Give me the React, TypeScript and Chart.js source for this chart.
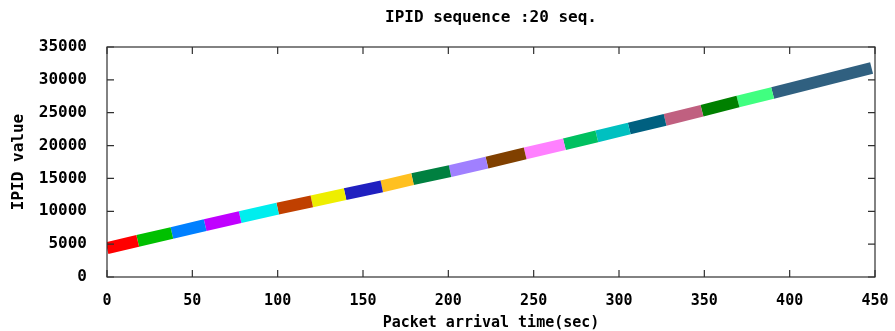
import React, { useEffect, useRef } from "react";
import { Chart, registerables } from "chart.js";

Chart.register(...registerables);

const chartTitle = "IPID sequence :20 seq.";
const xTitle = "Packet arrival time(sec)";
const yTitle = "IPID value";

// 20 IPID sequences: start/end arrival time (sec) and start/end IPID value
const seqStartTime = [0, 18, 38, 57.5, 78, 100, 120, 139.5, 161, 179, 201, 222.6, 245, 268, 287, 306, 327, 348.6, 369.7, 390];
const seqEndTime = [18, 38, 57.5, 78, 100, 120, 139.5, 161, 179, 201, 222.6, 245, 268, 287, 306, 327, 348.6, 369.7, 390, 448];
const seqStartValue = [4400, 5500, 6700, 7900, 9100, 10400, 11500, 12600, 13800, 14900, 16100, 17400, 18800, 20200, 21400, 22600, 23900, 25300, 26700, 28000];
const seqEndValue = [5500, 6700, 7900, 9100, 10400, 11500, 12600, 13800, 14900, 16100, 17400, 18800, 20200, 21400, 22600, 23900, 25300, 26700, 28000, 31800];
const seqColors = [
  "#ff0000", "#00c000", "#0080ff", "#c000ff", "#00eeee",
  "#c04000", "#eeee00", "#2020c0", "#ffc020", "#008040",
  "#a080ff", "#804000", "#ff80ff", "#00c060", "#00c0c0",
  "#006080", "#c06080", "#008000", "#40ff80", "#306080",
];

const FONT = '"DejaVu Sans Mono", "Liberation Mono", monospace';

const framePlugin = {
  id: "frame",
  afterDraw(chart: any) {
    const { ctx, chartArea } = chart;
    const { left, right, top, bottom } = chartArea;
    const xs = chart.scales.x;
    const ys = chart.scales.y;
    ctx.save();
    ctx.strokeStyle = "#303030";
    ctx.lineWidth = 1.2;
    ctx.strokeRect(left, top, right - left, bottom - top);
    const tl = 7;
    ctx.beginPath();
    xs.ticks.forEach((t: any) => {
      const px = xs.getPixelForValue(t.value);
      ctx.moveTo(px, bottom);
      ctx.lineTo(px, bottom - tl);
      ctx.moveTo(px, top);
      ctx.lineTo(px, top + tl);
    });
    ys.ticks.forEach((t: any) => {
      const py = ys.getPixelForValue(t.value);
      ctx.moveTo(left, py);
      ctx.lineTo(left + tl, py);
      ctx.moveTo(right, py);
      ctx.lineTo(right - tl, py);
    });
    ctx.stroke();
    ctx.fillStyle = "#000";
    ctx.font = "bold 16px " + FONT;
    ctx.textAlign = "center";
    ctx.textBaseline = "middle";
    ctx.fillText(chartTitle, (left + right) / 2, 18);
    ctx.restore();
  },
};

export default function App() {
  const ref = useRef<HTMLCanvasElement | null>(null);
  useEffect(() => {
    document.body.style.margin = "0";
    const canvas = ref.current;
    if (!canvas) return;
    const datasets = seqColors.map((c, i) => ({
      label: "seq " + (i + 1),
      data: [
        { x: seqStartTime[i], y: seqStartValue[i] },
        { x: seqEndTime[i], y: seqEndValue[i] },
      ],
      borderColor: c,
      backgroundColor: c,
      borderWidth: 12,
      borderCapStyle: "butt",
      pointRadius: 0,
      showLine: true,
      tension: 0,
    }));
    const chart = new Chart(canvas, {
      type: "scatter",
      data: { datasets: datasets as any },
      options: {
        animation: false,
        responsive: false,
        layout: { padding: { top: 47, right: 20, left: 0, bottom: 0 } },
        plugins: { legend: { display: false }, tooltip: { enabled: false }, title: { display: false } },
        scales: {
          x: {
            type: "linear",
            min: 0,
            max: 450,
            grid: { display: false },
            border: { display: false },
            afterFit: (s: any) => { s.height = 54; s.paddingLeft = 0; s.paddingRight = 0; },
            ticks: {
              stepSize: 50,
              color: "#000",
              padding: 7,
              maxRotation: 0,
              font: { family: FONT, size: 15, weight: "bold" },
            },
            title: {
              display: true,
              text: xTitle,
              color: "#000",
              padding: { top: 0, bottom: 0 },
              font: { family: FONT, size: 15, weight: "bold", lineHeight: 1 },
            },
          },
          y: {
            type: "linear",
            min: 0,
            max: 35000,
            grid: { display: false },
            border: { display: false },
            afterFit: (s: any) => { s.width = 107; s.paddingTop = 0; s.paddingBottom = 0; },
            ticks: {
              stepSize: 5000,
              color: "#000",
              padding: 12,
              callback: (v: any) => String(v),
              font: { family: FONT, size: 16, weight: "bold" },
            },
            title: {
              display: true,
              text: yTitle,
              color: "#000",
              padding: { top: 10.5, bottom: 0 },
              font: { family: FONT, size: 16, weight: "bold", lineHeight: 1 },
            },
          },
        },
      },
      plugins: [framePlugin],
    });
    return () => chart.destroy();
  }, []);
  return <canvas ref={ref} width={895} height={331} style={{ display: "block", width: 895, height: 331 }} />;
}
